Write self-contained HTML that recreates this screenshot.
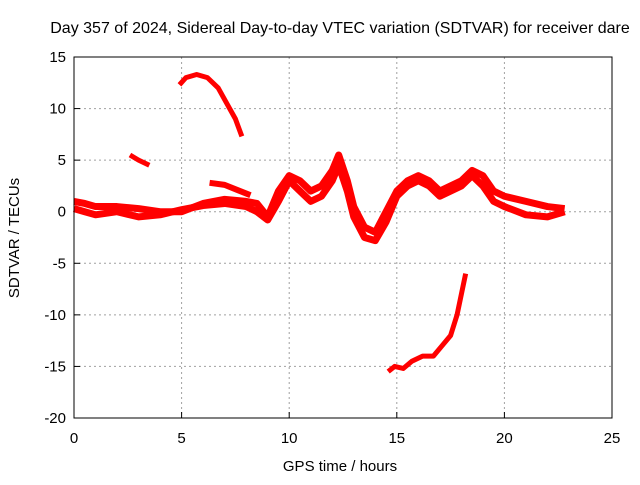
<!DOCTYPE html>
<html><head><meta charset="utf-8"><style>
body{margin:0;background:#fff}
svg{font-family:"Liberation Sans",sans-serif;font-size:15px}
</style></head><body>
<svg id="c" width="640" height="480" xmlns="http://www.w3.org/2000/svg">
<rect width="640" height="480" fill="#fff"/>
<text x="340" y="33" text-anchor="middle" style="font-size:16px">Day 357 of 2024, Sidereal Day-to-day VTEC variation (SDTVAR) for receiver dare</text>
<text x="340" y="471" text-anchor="middle">GPS time / hours</text>
<text transform="translate(19,238) rotate(-90)" text-anchor="middle">SDTVAR / TECUs</text>
<g id="grid"></g><g id="data"></g>
<rect x="74" y="57" width="538" height="361" fill="none" stroke="#000"/>
</svg>
<script>
const xTicks=[0,5,10,15,20,25];
const yTicks=[15,10,5,0,-5,-10,-15,-20];
const mainT=[0,0.5,1,2,3,4,5,6,7,8,8.5,9,9.5,10,10.5,11,11.5,12,12.3,12.7,13,13.5,14,14.5,15,15.5,16,16.5,17,17.5,18,18.5,19,19.5,20,21,22,22.8];
const upperV=[1,0.8,0.5,0.5,0.3,0,0,0.8,1.2,1,0.8,-0.5,2,3.5,3,2,2.5,4,5.5,3,0.5,-1.5,-2,0,2,3,3.5,3,2,2.5,3,4,3.5,2,1.5,1,0.5,0.3];
const lowerV=[0.3,0,-0.3,0,-0.5,-0.3,0.2,0.6,0.8,0.5,0,-0.8,1,3,2,1,1.5,3,4.5,2,-0.5,-2.5,-2.8,-1,1.5,2.5,3,2.5,1.5,2,2.5,3.5,2.5,1,0.5,-0.3,-0.5,0];
const armT=[6.3,7,7.6,8.2];
const armV=[2.8,2.6,2.1,1.6];
const highT=[4.9,5.2,5.7,6.2,6.7,7.1,7.5,7.8];
const highV=[12.3,13,13.3,13,12,10.5,9,7.3];
const midT=[2.6,3,3.5];
const midV=[5.5,5,4.5];
const lowT=[14.6,14.9,15.3,15.7,16.2,16.7,17.1,17.5,17.8,18,18.2];
const lowV=[-15.5,-15,-15.2,-14.5,-14,-14,-13,-12,-10,-8,-6];
const X=t=>74+t*538/25, Y=v=>57+(15-v)*361/35;
const NS="http://www.w3.org/2000/svg";
const svg=document.getElementById('c'),grid=document.getElementById('grid'),dg=document.getElementById('data');
function mk(tag,at,p){const e=document.createElementNS(NS,tag);for(const k in at)e.setAttribute(k,at[k]);p.appendChild(e);return e;}
xTicks.forEach(t=>{
 if(t>0&&t<25){const l=mk('line',{x1:X(t),x2:X(t),y1:57,y2:418,stroke:'#a0a0a0','stroke-dasharray':'2,3'},grid);
 
 }
 const tk=mk('line',{x1:X(t),x2:X(t),y1:418,y2:412,stroke:'#000'},grid);
 
 
 const tx=mk('text',{x:X(t),y:443,'text-anchor':'middle'},grid);tx.textContent=t;
 
 
});
yTicks.forEach(v=>{
 if(v>-20&&v<15){const l=mk('line',{x1:74,x2:612,y1:Y(v),y2:Y(v),stroke:'#a0a0a0','stroke-dasharray':'2,3'},grid);
 
 }
 const tk=mk('line',{x1:74,x2:80,y1:Y(v),y2:Y(v),stroke:'#000'},grid);
 
 
 const tx=mk('text',{x:66,y:Y(v)+5,'text-anchor':'end'},grid);tx.textContent=v;
 
 
});
function series(T,V,w,name){
 const pts=T.map((t,i)=>X(t)+','+Y(V[i])).join(' ');
 const p=mk('polyline',{points:pts,fill:'none',stroke:'#ff0000','stroke-width':w,'stroke-linejoin':'round'},dg);
 
 
}
series(mainT,upperV,7,'series-upper-band');
series(mainT,lowerV,7,'series-lower-band');
series(armT,armV,6,'series-arm');
series(highT,highV,5,'series-high');
series(midT,midV,5,'series-mid');
series(lowT,lowV,5,'series-low');
</script>
</body></html>
